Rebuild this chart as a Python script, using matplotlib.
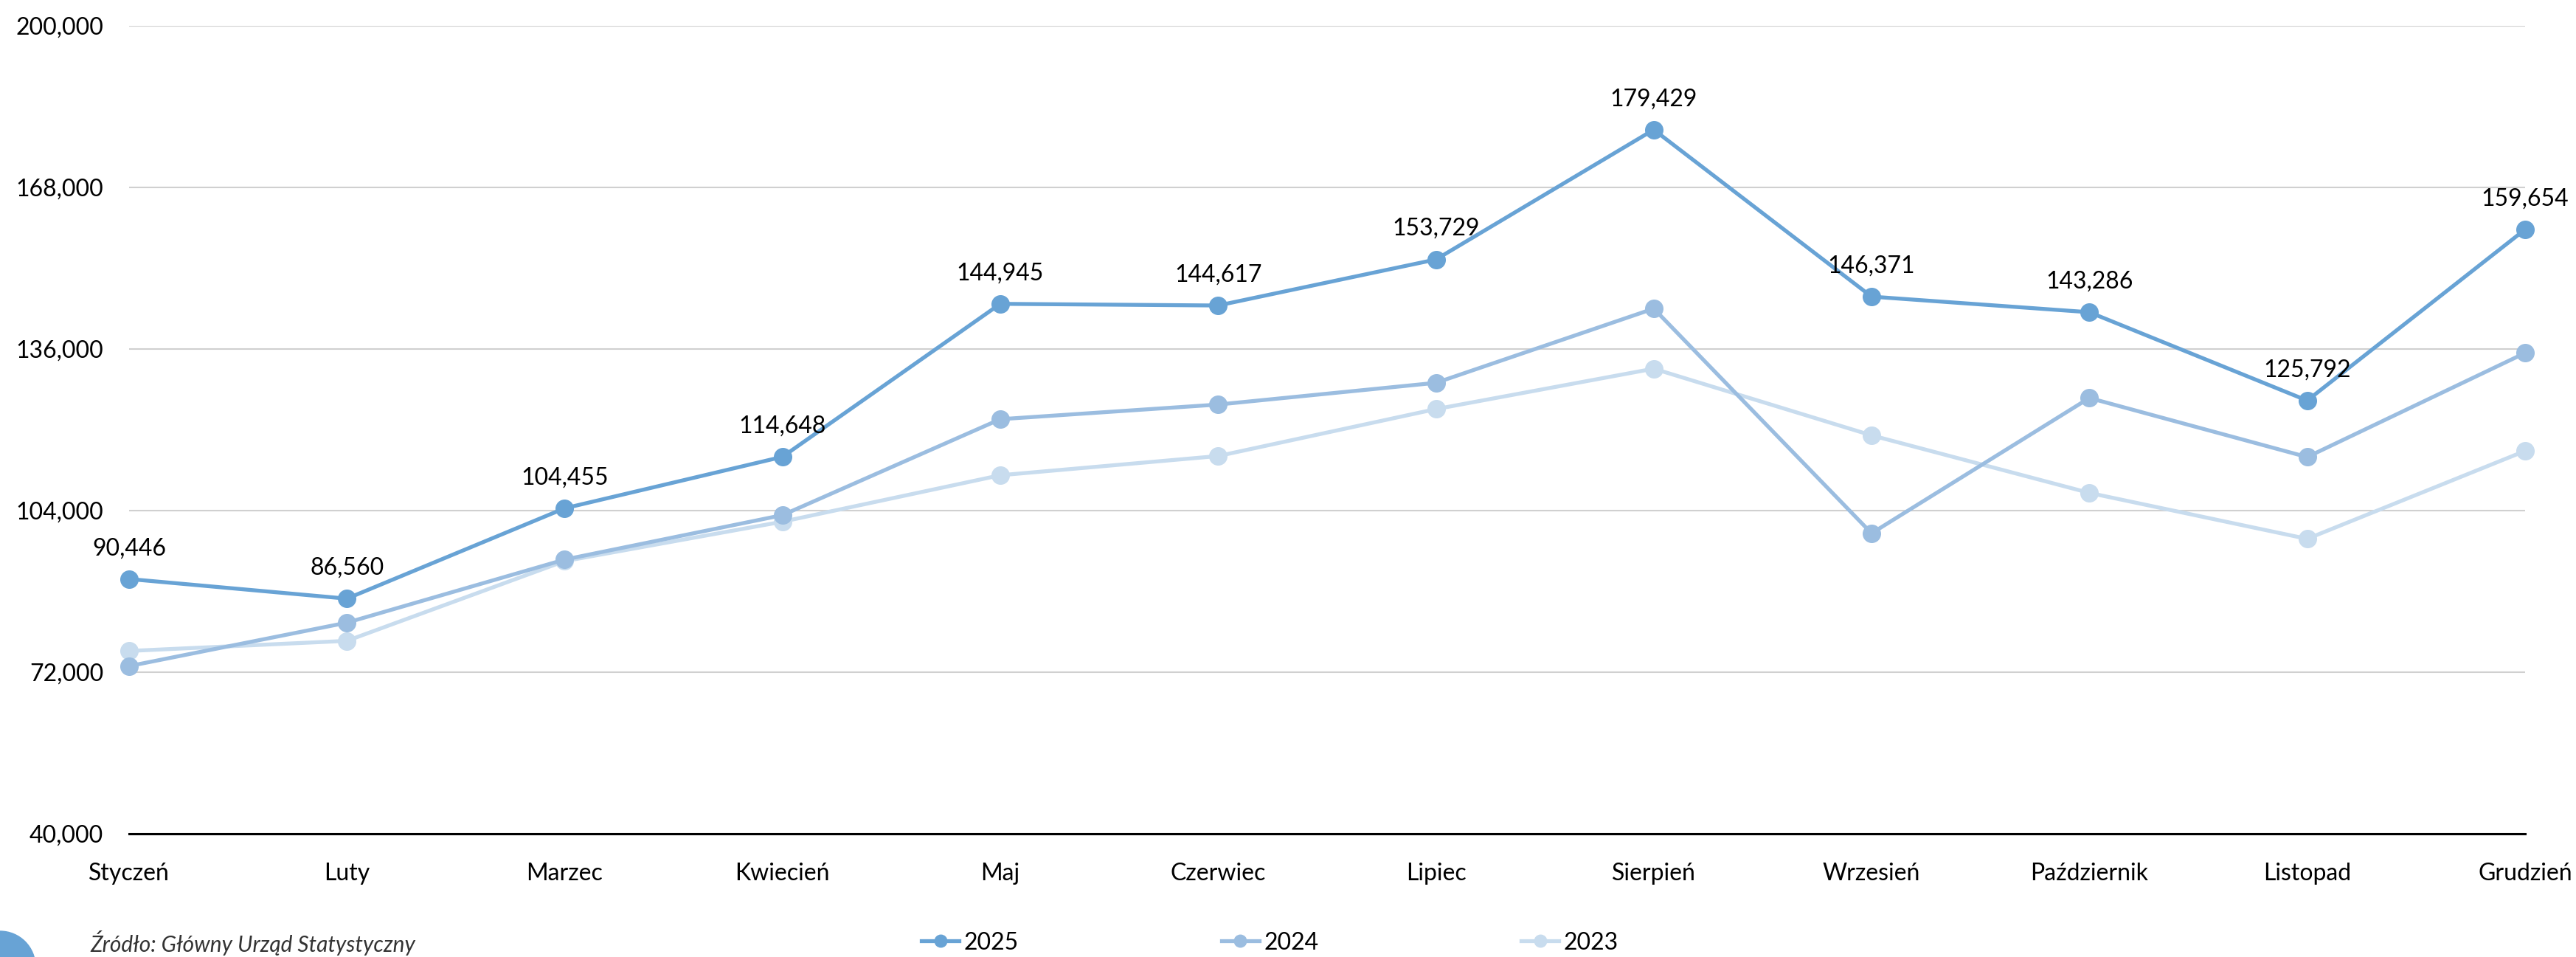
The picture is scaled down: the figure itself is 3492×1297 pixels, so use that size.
import numpy as np
import matplotlib
matplotlib.use("Agg")
import matplotlib.pyplot as plt
from matplotlib.patches import Circle
from matplotlib.ticker import FuncFormatter

plt.rcParams['font.family'] = ['Lato', 'DejaVu Sans']

# dane miesięczne
miesiace = ['Styczeń', 'Luty', 'Marzec', 'Kwiecień', 'Maj', 'Czerwiec', 'Lipiec',
            'Sierpień', 'Wrzesień', 'Październik', 'Listopad', 'Grudzień']
lata = ['2025', '2024', '2023']
v2025 = [90446, 86560, 104455, 114648, 144945, 144617, 153729, 179429, 146371, 143286, 125792, 159654]
v2024 = [73200, 81800, 94300, 103100, 122100, 125000, 129300, 144000, 99500, 126300, 114600, 135200]
v2023 = [76200, 78200, 94000, 101800, 111000, 114800, 124100, 132100, 118900, 107500, 98400, 115800]
kolory = ['#68a3d5', '#9bbde0', '#c8dcee']
y_ticks = [40000, 72000, 104000, 136000, 168000, 200000]
zrodlo = 'Źródło: Główny Urząd Statystyczny'

fig = plt.figure(figsize=(34.92, 12.97), dpi=100)
ax = fig.add_axes([0.0501, 0.1288, 0.9301, 0.8442])

x = np.arange(len(miesiace))
serie = [v2025, v2024, v2023]
# rysujemy od najjaśniejszej, żeby 2025 był na wierzchu
for i in [2, 1, 0]:
    ax.plot(x, serie[i], color=kolory[i], lw=3.8, marker='o', markersize=17,
            label=lata[i], clip_on=False, zorder=3 + (2 - i))

for xi, v in zip(x, v2025):
    ax.annotate(f'{v:,}', (xi, v), xytext=(0, 30), textcoords='offset points',
                ha='center', va='center', fontsize=23, color='black', zorder=10)

ax.set_xlim(0, len(miesiace) - 1)
ax.set_ylim(y_ticks[0], y_ticks[-1])
ax.set_yticks(y_ticks)
ax.yaxis.set_major_formatter(FuncFormatter(lambda v, p: f'{int(v):,}'))
ax.set_xticks(x)
ax.set_xticklabels(miesiace)
ax.tick_params(axis='both', length=0, labelsize=23, colors='black')
ax.tick_params(axis='y', pad=25)
ax.tick_params(axis='x', pad=28)
ax.grid(axis='y', color='#d0d0d0', lw=1.5)
ax.set_axisbelow(True)
for s in ['top', 'right', 'left']:
    ax.spines[s].set_visible(False)
ax.spines['bottom'].set_color('black')
ax.spines['bottom'].set_linewidth(2.2)
ax.spines['bottom'].set_zorder(2)

handles, labels = ax.get_legend_handles_labels()
order = [labels.index(l) for l in lata]
leg = fig.legend([handles[j] for j in order], [labels[j] for j in order],
                 loc='center', bbox_to_anchor=(0.493, 0.015), ncol=3, frameon=False,
                 fontsize=23, handlelength=1.6, handletextpad=0.2, columnspacing=8.6,
                 markerscale=0.7)

fig.text(0.035, 0.015, zrodlo, fontsize=21.5, style='italic', color='#333333',
         ha='left', va='center')

# fragment logo w lewym dolnym rogu
fig.patches.append(Circle((0.0, -0.13), 0.48, transform=fig.dpi_scale_trans,
                          color='#68a3d5', zorder=0))

fig.savefig('out.png', dpi=100, facecolor='white')
